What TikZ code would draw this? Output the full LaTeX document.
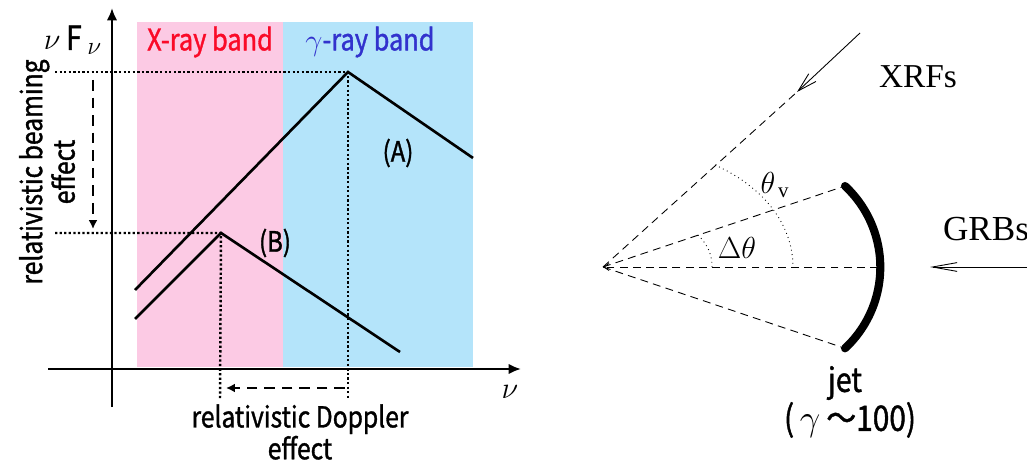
\documentclass[tikz,border=0pt]{standalone}
\usepackage{fontspec}
\setmainfont{Liberation Serif}
\newfontfamily\gothic[FakeStretch=0.85, FakeBold=1.2]{Noto Sans CJK JP}
\usetikzlibrary{arrows.meta}
\definecolor{xpink}{RGB}{252,202,228}
\definecolor{gblue}{RGB}{180,228,250}
\definecolor{xred}{RGB}{250,10,40}
\definecolor{gtext}{RGB}{50,50,205}
\tikzset{
  bandtext/.style={font=\gothic\fontsize{17}{19}\selectfont},
  note/.style={font=\gothic\fontsize{16.5}{15.5}\selectfont, align=center, inner sep=1pt},
  spec/.style={line width=1.5pt},
  guide/.style={line width=1.4pt, dash pattern=on 1.3pt off 1.3pt},
  shiftarrow/.style={line width=1.4pt, dash pattern=on 6pt off 4pt, -{Latex[length=5pt,width=5pt]}},
  ray/.style={line width=0.5pt, dash pattern=on 4.5pt off 3pt},
  view/.style={line width=0.5pt, dotted},
  incoming/.style={line width=0.5pt, -{Straight Barb[length=11pt,width=6pt]}},
}
\begin{document}
\begin{tikzpicture}[x=0.02cm, y=-0.02cm]
  \useasboundingbox (0,0) rectangle (1027,469);
  % energy bands
  \fill[xpink] (137,22) rectangle (283,367);
  \fill[gblue] (283,22) rectangle (473,367);
  \node[bandtext, text=xred] (xband) at (210,42) {X-ray band};
  \node[bandtext, text=gtext] (gband) at (370,42) {$\gamma$-ray band};
  % axes
  \coordinate (ybot) at (112,407);
  \coordinate (ytop) at (112,8);
  \coordinate (xleft) at (48,369);
  \coordinate (xright) at (521,369);
  \draw[line width=1.3pt, -{Latex[length=7pt,width=6pt]}] (ybot) -- (ytop);
  \draw[line width=1.3pt, -{Latex[length=7pt,width=6pt]}] (xleft) -- (xright);
  \node[font=\gothic\fontsize{19}{20}\selectfont] (yname) at (73,40) {$\nu$\,F\,$_{\nu}$};
  \node[font=\fontsize{19}{20}\selectfont] (xname) at (510,392) {$\nu$};
  % spectra (A) and (B)
  \coordinate (a0) at (135,290);
  \coordinate (apeak) at (348,72);
  \coordinate (a1) at (473,158);
  \coordinate (b0) at (135,319);
  \coordinate (bpeak) at (221,233);
  \coordinate (b1) at (400,352);
  \draw[spec] (a0) -- (apeak) -- (a1);
  \draw[spec] (b0) -- (bpeak) -- (b1);
  \node[note, font=\gothic\fontsize{16}{18}\selectfont] (alabel) at (398,153) {(A)};
  \node[note, font=\gothic\fontsize{16}{18}\selectfont] (blabel) at (275,243) {(B)};
  % peak guides
  \coordinate (ahl) at (55,72);
  \coordinate (bhl) at (55,233);
  \coordinate (avd) at (348,399);
  \coordinate (bvd) at (220,399);
  \draw[guide] (ahl) -- (apeak) -- (avd);
  \draw[guide] (bhl) -- (bpeak) -- (bvd);
  % beaming and Doppler shifts
  \coordinate (beam0) at (93,80);
  \coordinate (beam1) at (93,229);
  \coordinate (dop0) at (345,388);
  \coordinate (dop1) at (226,388);
  \draw[shiftarrow] (beam0) -- (beam1);
  \draw[shiftarrow] (dop0) -- (dop1);
  \node[note, rotate=90] (beamtext) at (47,172) {relativistic beaming\\effect};
  \node[note] (doptext) at (300,432) {relativistic Doppler\\effect};
  % jet geometry
  \coordinate (O) at (603,267);
  \coordinate (jtop) at (845,186);
  \coordinate (jmid) at (878,267);
  \coordinate (jbot) at (847,349);
  \coordinate (xr) at (797,92);
  \coordinate (xs) at (860,33);
  \coordinate (gs) at (1027,267);
  \coordinate (gt) at (930,267);
  \draw[ray] (O) -- (xr);
  \draw[ray] (O) -- (jtop);
  \draw[ray] (O) -- (jbot);
  \draw[ray, -{Straight Barb[length=3pt,width=4pt]}] (jmid) -- (O);
  \draw[line width=4.6pt, line cap=round] (jtop) arc[start angle=-47, end angle=47, radius=111];
  \draw[incoming] (xs) -- (xr);
  \draw[incoming, -{Straight Barb[length=14pt,width=5pt]}] (gs) -- (gt);
  % opening and viewing angles
  \draw[view] (715,165) .. controls (770,190) and (793,230) .. (793,267);
  \draw[view] (698,235) .. controls (708,245) and (712,255) .. (712,267);
  \node[font=\fontsize{17}{19}\selectfont] (thv) at (775,185) {$\theta_{\,\mathrm{v}}$};
  \node[font=\fontsize{16}{18}\selectfont] (dth) at (737,248) {$\Delta\theta$};
  \node[font=\fontsize{19}{21}\selectfont] (xrf) at (918,77) {XRFs};
  \node[font=\fontsize{20}{22}\selectfont] (grb) at (986,229) {GRBs};
  \node[font=\gothic\fontsize{19}{21}\selectfont] (jet) at (845,383) {jet};
  \node[font=\gothic\fontsize{20}{22}\selectfont] (gam) at (850,420) {(\,$\gamma$\,～100)};
\end{tikzpicture}
\end{document}
